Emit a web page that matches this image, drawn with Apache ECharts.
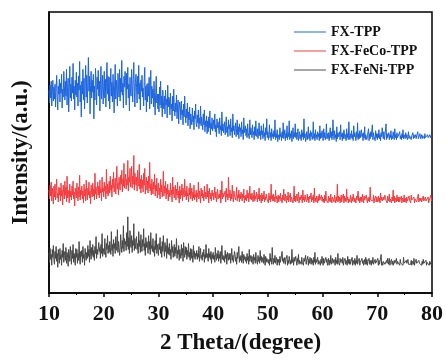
<!DOCTYPE html>
<html>
<head>
<meta charset="utf-8">
<script src="https://cdn.jsdelivr.net/npm/echarts@6/dist/echarts.min.js"></script>
<style>html,body{margin:0;padding:0;background:#fff}#c{width:446px;height:360px}</style>
</head>
<body>
<div id="c"></div>
<script>
var xStart = 10, xStep = 0.1;
var seriesNames = ['FX-TPP', 'FX-FeCo-TPP', 'FX-FeNi-TPP'];
var xTicks = [10, 20, 30, 40, 50, 60, 70, 80];
var fxTPP = [
205,192,210,197,214,189,203,215,194,208, 196,211,188,207,220,199,185,209,201,216,
193,212,202,221,187,206,198,224,210,195, 214,199,226,190,208,217,183,204,229,197,
211,194,218,202,232,196,209,185,215,200, 223,198,212,189,219,205,234,193,210,178,
214,201,226,195,217,186,209,230,198,220, 192,213,238,204,219,181,210,224,197,215,
203,221,176,209,195,227,212,190,218,206, 225,199,214,184,211,229,196,207,220,191,
209,224,197,216,188,212,233,201,219,194, 218,186,208,227,199,213,193,221,204,182,
211,231,196,215,205,189,222,210,198,226, 194,217,203,235,200,212,187,219,208,224,
215,190,222,206,228,197,211,184,218,203, 199,226,210,193,216,233,204,188,213,221,
208,192,219,201,230,196,212,185,215,204, 220,198,207,189,214,228,195,209,183,211,
193,212,199,218,186,205,225,191,209,197, 206,188,214,195,180,203,219,192,201,186,
201,183,208,190,214,187,199,178,205,193, 186,199,181,205,190,196,177,210,188,198,
195,180,202,186,191,174,199,184,206,187, 179,192,183,200,176,189,195,171,187,193,
188,175,194,180,185,170,191,178,199,181, 172,186,177,192,169,183,175,188,166,181,
182,170,187,173,179,165,184,176,191,171, 168,180,172,185,166,177,171,189,169,178,
176,165,181,170,185,163,174,168,179,161, 174,163,178,167,184,160,172,166,177,164,
162,175,166,181,163,170,158,176,167,173, 172,161,177,165,169,159,183,164,171,162,
164,173,160,169,178,162,168,158,175,166, 170,159,176,163,167,157,181,164,169,160,
161,172,158,166,175,160,168,156,171,163, 167,158,173,161,165,155,177,162,160,169,
159,166,157,171,162,164,156,175,160,167, 165,157,170,160,163,155,168,159,174,161,
158,166,156,163,172,159,164,155,169,160, 164,156,171,158,162,154,167,160,176,157,
163,155,160,170,157,162,154,166,158,161, 156,164,158,175,155,161,157,165,153,160,
162,155,167,158,161,154,163,157,172,156, 159,165,154,161,157,169,155,162,158,174,
155,161,157,164,153,160,167,156,162,158, 171,157,162,155,160,166,154,159,163,156,
160,154,165,158,162,155,176,157,161,153, 157,163,155,160,168,156,161,154,164,158,
162,155,159,173,156,161,154,165,157,160, 155,163,158,161,154,169,156,162,157,164,
160,154,166,157,162,155,159,171,156,161, 156,162,154,160,167,157,163,155,158,175,
161,155,164,157,160,153,168,156,162,158, 157,163,155,170,158,161,154,162,156,165,
163,156,160,154,166,157,161,155,173,159, 155,161,157,164,156,160,154,169,158,162,
160,154,163,157,172,155,161,156,164,157, 156,165,158,161,154,162,157,168,155,160,
162,155,159,157,166,154,161,156,163,158, 157,170,155,162,158,160,154,164,157,161,
155,161,157,165,156,160,154,162,158,167, 160,156,163,155,159,157,171,155,161,157,
156,162,155,160,157,164,155,159,156,163, 161,155,166,157,160,155,162,157,159,156,
157,163,156,159,155,161,157,165,156,160, 159,156,162,157,160,155,158,163,156,159,
157,161,155,159,157,162,156,160,157,158, 160,156,159,157,163,156,158,157,161,156,
157,160,156,159,157,158,156,161,157,159, 159,156,160,157,158,156,160,157,159,157,
158];
var fxFeCoTPP = [
104,95,109,98,112,93,106,100,90,108, 97,110,94,103,115,96,101,92,107,99,
106,93,111,98,104,89,109,101,95,113, 99,107,92,118,96,104,100,91,110,97,
103,94,108,99,113,95,102,88,106,100, 96,111,101,93,107,97,119,94,104,99,
108,95,103,91,110,98,105,93,114,100, 94,106,99,112,96,103,90,109,101,97,
111,98,105,94,121,100,107,95,103,112, 99,108,96,114,101,105,93,117,102,106,
97,112,103,108,95,125,100,110,98,106, 113,101,118,104,109,97,115,106,122,102,
107,116,100,112,128,105,111,99,117,109, 104,119,110,124,102,115,108,131,106,113,
120,105,115,109,134,103,117,112,126,107, 113,128,106,118,110,139,104,121,115,109,
117,103,124,111,108,130,105,115,101,119, 106,114,102,121,109,126,100,112,117,104,
113,101,118,106,132,103,110,99,115,107, 100,112,105,120,98,109,103,116,96,108,
111,99,106,95,115,102,109,97,104,123, 98,108,101,113,95,106,100,110,93,104,
106,97,111,99,104,92,117,100,107,96, 101,109,94,105,99,112,96,103,91,108,
95,104,99,110,93,106,101,97,115,98, 103,94,108,98,101,92,106,99,111,95,
99,106,93,102,96,109,94,100,97,104, 92,101,97,112,95,103,99,91,106,98,
104,96,100,93,108,97,102,95,99,110, 97,103,91,106,99,95,101,93,104,98,
101,94,99,107,96,102,92,98,105,95, 93,100,96,104,91,98,113,95,101,97,
99,95,103,92,106,97,100,94,117,96, 96,104,93,100,95,109,98,92,103,99,
101,94,98,107,93,99,96,104,92,100, 95,102,97,93,100,96,105,91,98,94,
99,93,104,96,101,92,97,108,95,100, 94,101,96,92,99,104,93,98,95,102,
97,92,100,95,106,93,99,96,91,101, 93,99,95,103,92,97,94,100,96,98,
96,91,101,94,98,92,110,95,99,93, 100,93,97,92,104,95,98,91,96,99,
92,98,95,101,93,96,91,99,94,105, 97,93,100,95,91,98,94,102,92,96,
94,101,92,97,95,99,91,96,108,93, 98,92,96,100,93,95,102,91,97,94,
93,99,95,91,104,94,97,92,99,95, 96,92,100,94,97,91,98,95,93,101,
92,97,94,99,91,106,93,96,92,98, 95,91,98,93,100,94,96,92,99,93,
97,92,95,91,99,93,103,94,96,92, 91,98,93,96,92,100,94,91,97,95,
96,92,99,94,91,97,93,110,92,98, 93,97,91,95,99,92,96,94,100,91,
98,93,96,92,105,94,97,91,95,93, 92,99,94,91,97,93,100,95,92,96,
95,91,98,94,92,103,93,96,91,97, 93,97,92,100,95,91,98,94,96,92,
99,94,91,96,93,97,92,107,94,95, 92,96,93,99,91,95,94,98,92,97,
95,92,98,93,96,91,101,94,97,93, 91,97,94,92,99,95,93,96,91,98,
96,93,100,92,95,94,91,97,93,104, 93,98,91,96,94,92,99,93,97,92,
97,92,95,93,98,91,96,94,92,99, 92,96,94,91,97,93,95,92,98,94,
95,91,99,94,92,96,93,97,91,95, 93,97,92,95,94,100,92,96,93,94,
96,92,94,91,98,93,95,92,97,93, 92,95,93,97,91,94,96,92,99,93,
94];
var fxFeNiTPP = [
41,31,45,34,39,28,44,36,48,33, 29,42,35,47,32,40,26,44,37,30,
45,34,39,28,43,36,50,31,38,42, 33,46,30,41,36,27,44,39,32,47,
38,29,43,35,49,31,40,34,28,45, 36,44,30,40,33,52,35,29,42,37,
43,31,47,35,39,28,45,38,33,41, 35,48,37,44,31,53,40,34,46,38,
49,36,43,33,47,40,57,35,44,39, 38,51,42,46,35,49,40,60,37,45,
47,39,55,42,36,50,44,58,40,48, 41,52,46,39,62,43,49,37,54,45,
50,40,57,47,43,64,41,52,46,38, 44,59,48,41,53,45,68,42,55,49,
52,43,61,47,77,44,56,40,63,50, 46,58,41,53,48,70,43,55,45,51,
57,44,50,40,62,47,53,41,59,45, 42,54,47,65,43,50,38,56,46,52,
49,40,58,44,52,39,61,45,48,42, 55,41,47,37,53,44,60,40,49,43,
38,50,44,56,40,47,36,52,42,58, 45,37,51,42,48,35,55,40,46,39,
50,38,44,34,53,41,47,36,43,49, 37,46,40,55,35,43,39,48,33,44,
42,35,49,38,45,32,51,40,36,47, 39,46,34,43,37,50,36,41,33,45,
35,44,38,31,48,36,42,34,40,37, 43,34,40,36,47,32,39,45,35,38,
33,41,37,44,31,39,35,49,36,40, 38,32,45,36,40,34,42,30,39,35,
41,34,38,31,46,36,33,40,35,43, 32,39,35,42,30,37,48,34,38,33,
37,31,43,35,39,29,41,36,33,40, 34,40,30,37,45,33,38,31,36,42,
39,32,36,29,41,35,33,47,31,37, 33,38,31,42,35,30,39,34,37,32,
36,30,40,33,37,29,44,32,35,38, 31,37,34,29,39,33,36,30,41,34,
35,29,38,32,36,30,43,33,37,31, 32,36,30,39,34,28,37,31,35,33,
37,30,34,28,40,32,35,29,46,33, 29,35,31,38,30,33,36,28,34,31,
34,28,37,31,33,29,42,32,35,30, 31,36,29,34,32,38,28,33,30,37,
35,29,33,30,44,31,34,28,36,32, 30,37,32,28,35,31,39,29,33,31,
34,29,36,31,33,28,35,32,30,38, 29,33,31,37,28,34,30,36,32,29,
35,30,33,28,36,31,41,29,34,31, 30,36,29,33,31,35,28,34,30,37,
33,28,35,30,32,29,36,31,34,28, 31,35,28,33,30,38,29,32,35,30,
29,34,31,28,36,30,33,29,40,31, 33,28,35,31,29,34,30,36,28,32,
30,35,29,33,31,28,37,30,34,29, 34,29,32,30,36,28,33,31,29,35,
28,33,30,38,29,32,30,35,28,31, 32,29,35,30,33,28,31,34,29,36,
29,34,28,32,30,35,29,33,31,28, 33,30,36,29,31,28,34,30,32,29,
30,35,28,33,29,32,30,39,28,31, 28,32,30,34,29,31,28,33,30,35,
32,29,35,28,31,30,34,29,32,28, 29,33,30,31,28,35,29,32,30,33,
31,28,34,30,32,29,31,28,36,30, 28,32,29,33,30,28,34,29,31,30,
31,29,33,28,32,30,29,35,28,31, 29,34,30,28,31,29,33,30,28,32,
30,28,32,29,34,30,28,31,29,33, 28,31,29,33,30,28,32,29,31,28,
30];

function pairs(arr) {
  return arr.map(function (v, i) { return [+(xStart + i * xStep).toFixed(2), v]; });
}
var colors = ['#1c64dc', '#f53a3e', '#474747'];
var legendColors = ['#6b9be6', '#f08080', '#8a8a8a'];
var dataSets = [fxTPP, fxFeCoTPP, fxFeNiTPP];
var font = '"Liberation Serif", "Times New Roman", serif';

var chart = echarts.init(document.getElementById('c'), null, {renderer: 'canvas'});
chart.setOption({
  animation: false,
  backgroundColor: '#fff',
  grid: {left: 49, right: 14, top: 12, bottom: 64, show: true, borderColor: '#000', borderWidth: 1.5, backgroundColor: 'transparent'},
  legend: {
    orient: 'vertical', left: 294, top: 25, padding: 0, itemWidth: 32, itemHeight: 1.5, itemGap: 5,
    icon: 'rect',
    data: seriesNames.map(function (n, k) { return {name: n, itemStyle: {color: legendColors[k]}}; }),
    textStyle: {fontFamily: font, fontWeight: 'bold', fontSize: 14, lineHeight: 14, color: '#111'}
  },
  xAxis: {
    type: 'value', min: 10, max: 80, interval: 10,
    name: '2 Theta/(degree)', nameLocation: 'middle', nameGap: 39,
    nameTextStyle: {fontFamily: font, fontWeight: 'bold', fontSize: 23, color: '#111'},
    axisLine: {show: true, lineStyle: {color: '#000', width: 1.5}},
    axisTick: {show: true, inside: false, length: 4, lineStyle: {color: '#000', width: 1.5}},
    minorTick: {show: true, splitNumber: 2, length: 2, lineStyle: {color: '#000', width: 1}},
    axisLabel: {fontFamily: font, fontWeight: 'bold', fontSize: 22, color: '#111', margin: 10,
      formatter: function (v) { return xTicks.indexOf(v) >= 0 ? String(v) : ''; }},
    splitLine: {show: false}
  },
  yAxis: {
    type: 'value', min: 0, max: 284,
    name: 'Intensity/(a.u.)', nameLocation: 'middle', nameGap: 16, nameRotate: 90,
    nameTextStyle: {fontFamily: font, fontWeight: 'bold', fontSize: 23, color: '#111'},
    axisLine: {show: true, lineStyle: {color: '#000', width: 1.5}},
    axisTick: {show: false}, axisLabel: {show: false}, splitLine: {show: false}
  },
  series: seriesNames.map(function (n, k) {
    return {
      name: n, type: 'line', data: pairs(dataSets[k]), symbol: 'none', showSymbol: false,
      sampling: null, lineStyle: {color: colors[k], width: 1}, itemStyle: {color: colors[k]}
    };
  })
});
</script>
</body>
</html>
